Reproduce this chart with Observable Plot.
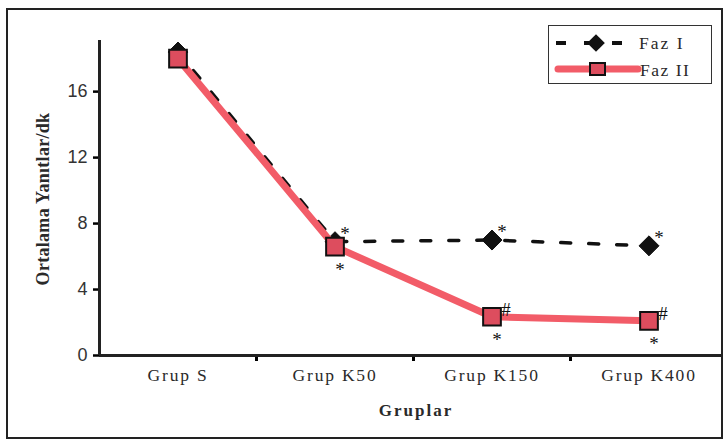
<!DOCTYPE html>
<html>
<head>
<meta charset="utf-8">
<script src="https://cdn.jsdelivr.net/npm/d3@7"></script>
<script src="https://cdn.jsdelivr.net/npm/@observablehq/plot@0.6"></script>
<style>
  html, body { margin: 0; padding: 0; background: #fff; }
  #wrap { position: relative; width: 723px; height: 444px; overflow: hidden; }
  #frame { position: absolute; left: 6px; top: 8px; width: 713px; height: 427px; border: 2px solid #222; pointer-events: none; }
  .ttl { position: absolute; font-family: "Liberation Serif", serif; font-weight: bold; font-size: 17px; color: #2a2a2a; white-space: nowrap; }
  #ylab { left: 43px; top: 199px; transform: translate(-50%, -50%) rotate(-90deg); font-size: 18px; letter-spacing: 0.3px; }
  #xlab { left: 416px; top: 411px; transform: translate(-50%, -50%); letter-spacing: 2px; }
  #legend { position: absolute; left: 548px; top: 25px; width: 162px; height: 57px; border: 1px solid #333; background: #fff; }
  #legend svg { position: absolute; left: 0; top: 0; }
</style>
</head>
<body>
<div id="wrap">
  <div id="chart"></div>
  <div id="frame"></div>
  <div id="ylab" class="ttl">Ortalama Yanıtlar/dk</div>
  <div id="xlab" class="ttl">Gruplar</div>
  <div id="legend"></div>
</div>
<script>
const categories = ["Grup S", "Grup K50", "Grup K150", "Grup K400"];
const fazI = [18.4, 6.9, 7.0, 6.65];
const fazII = [18.0, 6.6, 2.35, 2.1];
const starFazI = ["", "*", "*", "*"];
const hashFazII = ["", "", "#", "#"];
const starFazII = ["", "*", "*", "*"];
const yTicks = [0, 4, 8, 12, 16];
const seriesNames = ["Faz I", "Faz II"];

const pink = "#f25c68";
const sqFill = "#dd4d5e";

const dI = categories.map((c, i) => ({i, c, v: fazI[i], a: starFazI[i]}));
const dII = categories.map((c, i) => ({i, c, v: fazII[i], h: hashFazII[i], s: starFazII[i]}));

const serif = "Liberation Serif, Times New Roman, serif";
const sans = "Liberation Sans, Arial, sans-serif";

const plot = Plot.plot({
  width: 723,
  height: 444,
  marginLeft: 99,
  marginRight: 0,
  marginTop: 40,
  marginBottom: 89,
  x: {type: "linear", domain: [-0.5, 3.5], range: [99, 727]},
  y: {domain: [0, 19.1]},
  style: {background: "transparent"},
  marks: [
    Plot.axisY({ticks: yTicks, tickSize: 6, tickPadding: 6, strokeWidth: 2.5, label: null}),
    Plot.axisX({ticks: [0, 1, 2, 3], tickSize: 0, tickPadding: 13, tickFormat: i => categories[i], label: null}),
    Plot.axisX({ticks: [0.5, 1.5, 2.5], tickSize: 6, tickFormat: () => "", strokeWidth: 3, label: null}),
    Plot.ruleY([0], {stroke: "#222", strokeWidth: 3}),
    Plot.ruleX([-0.5], {y1: 0, y2: 19.1, stroke: "#222", strokeWidth: 3}),
    Plot.line(dI, {x: "i", y: "v", stroke: "#111", strokeWidth: 3.5, strokeDasharray: "10,18", strokeDashoffset: 4}),
    Plot.dot(dI, {x: "i", y: "v", symbol: "diamond2", r: 9, fill: "#111", stroke: "#111", strokeWidth: 1}),
    Plot.line(dII, {x: "i", y: "v", stroke: pink, strokeWidth: 7}),
    Plot.dot(dII, {x: "i", y: "v", symbol: "square", r: 10, fill: sqFill, stroke: "#111", strokeWidth: 2}),
    Plot.text(dI, {x: "i", y: "v", text: "a", dx: 10, dy: -8, fill: "#111"}),
    Plot.text(dII, {x: "i", y: "v", text: "h", dx: 14, dy: -7, fill: "#111"}),
    Plot.text(dII, {x: "i", y: "v", text: "s", dx: 5, dy: 23, fill: "#111"})
  ]
});
document.getElementById("chart").appendChild(plot);

// font styling of rendered texts
const yStr = yTicks.map(String);
plot.querySelectorAll("text").forEach(t => {
  const s = t.textContent;
  if (yStr.includes(s)) {
    t.style.fontFamily = sans; t.style.fontSize = "18px"; t.style.fill = "#333";
  } else if (categories.includes(s)) {
    t.style.fontFamily = serif; t.style.fontSize = "17.5px"; t.style.letterSpacing = "1.8px"; t.style.fill = "#2a2a2a";
  } else if (s === "*" || s === "#") {
    t.style.fontFamily = serif; t.style.fontSize = "19px"; t.style.fill = "#111";
  }
});

// legend
const lg = d3.select("#legend").append("svg").attr("width", 162).attr("height", 57);
lg.append("line").attr("x1", 7).attr("x2", 89).attr("y1", 17).attr("y2", 17)
  .attr("stroke", "#111").attr("stroke-width", 4).attr("stroke-dasharray", "10,18");
lg.append("path").attr("d", d3.symbol(d3.symbolDiamond2, 200)()).attr("transform", "translate(47,17)").attr("fill", "#111");
lg.append("text").attr("x", 90).attr("y", 23).text(seriesNames[0])
  .attr("font-family", serif).attr("font-size", 17.5).attr("fill", "#2a2a2a").attr("letter-spacing", "2px");
lg.append("line").attr("x1", 9).attr("x2", 89).attr("y1", 43).attr("y2", 43)
  .attr("stroke", pink).attr("stroke-width", 7).attr("stroke-linecap", "round");
lg.append("rect").attr("x", 41).attr("y", 37).attr("width", 15).attr("height", 12)
  .attr("fill", sqFill).attr("stroke", "#111").attr("stroke-width", 2);
lg.append("text").attr("x", 91).attr("y", 50).text(seriesNames[1])
  .attr("font-family", serif).attr("font-size", 17.5).attr("fill", "#2a2a2a").attr("letter-spacing", "1.5px");
</script>
</body>
</html>
